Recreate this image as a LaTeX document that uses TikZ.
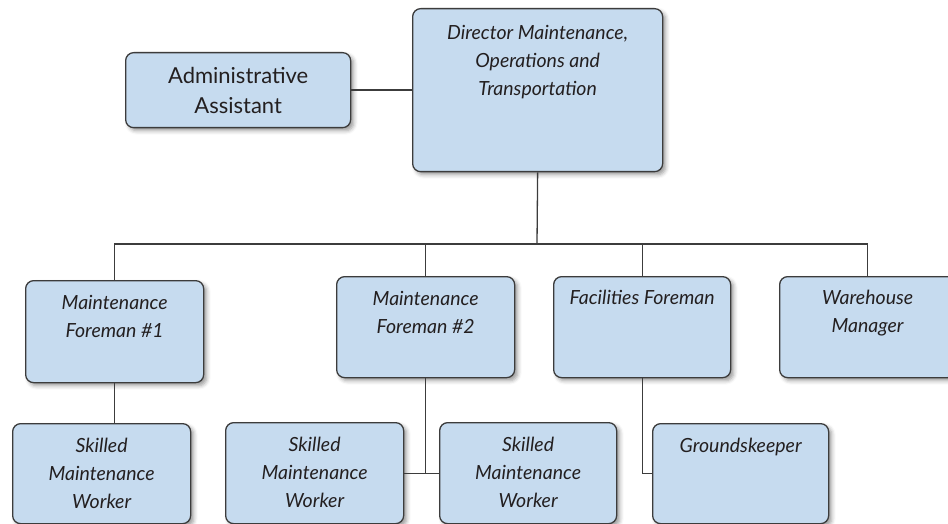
\documentclass[tikz,border=0pt]{standalone}
\usepackage{fontspec}
\setmainfont{Lato}
\usetikzlibrary{positioning,shadows.blur}
\definecolor{boxblue}{HTML}{C6DBEF}
\definecolor{linegray}{HTML}{3C3C3C}
\definecolor{textgray}{HTML}{231F20}
\begin{document}
\begin{tikzpicture}[x=1pt,y=-1pt]
    \tikzstyle{box}=[draw=linegray, fill=boxblue, line width=1.3pt, rounded corners=8pt, anchor=north west, inner sep=0pt, blur shadow={shadow xshift=3pt,shadow yshift=-3pt,shadow blur radius=4pt,shadow opacity=40}]
    \tikzstyle{title}=[inner sep=0pt, align=center, text=textgray, font=\fontsize{19.5}{28}\selectfont\itshape]
    \tikzstyle{link}=[draw=linegray, line width=1.3pt]
    \useasboundingbox (0,0) rectangle (948,524);

    \node (adm) [box, minimum width=225pt, minimum height=75pt, align=center, text=textgray, font=\fontsize{22}{30}\selectfont] at (125,52) {Administrative\\Assistant};
    \node (dir) [box, minimum width=250pt, minimum height=163pt] at (412,8) {};
    \node (fm1) [box, minimum width=178pt, minimum height=102pt] at (25,280) {};
    \node (fm2) [box, minimum width=178pt, minimum height=101pt] at (336,276) {};
    \node (ff) [box, minimum width=177pt, minimum height=101pt] at (553,276) {};
    \node (wh) [box, minimum width=176pt, minimum height=101pt] at (779,276) {};
    \node (sk1) [box, minimum width=178pt, minimum height=100pt] at (12,423) {};
    \node (sk2) [box, minimum width=178pt, minimum height=101pt] at (225,422) {};
    \node (sk3) [box, minimum width=177pt, minimum height=101pt] at (439,422) {};
    \node (gk) [box, minimum width=176pt, minimum height=100pt] at (652,423) {};

    \node (dirt) [title, below=17pt of dir.north] {Director Maintenance,\\Operations and\\Transportation};
    \node (fm1t) [title, below=15pt of fm1.north] {Maintenance\\Foreman \#1};
    \node (fm2t) [title, below=15pt of fm2.north] {Maintenance\\Foreman \#2};
    \node (fft) [title, below=14pt of ff.north] {Facilities Foreman};
    \node (wht) [title, below=14pt of wh.north] {Warehouse\\Manager};
    \node (sk1t) [title, below=15pt of sk1.north] {Skilled\\Maintenance\\Worker};
    \node (sk2t) [title, below=15pt of sk2.north] {Skilled\\Maintenance\\Worker};
    \node (sk3t) [title, below=15pt of sk3.north] {Skilled\\Maintenance\\Worker};
    \node (gkt) [title, below=15pt of gk.north] {Groundskeeper};

    \coordinate (bus) at (537,244);
    \draw[link] (adm.east) -- (adm.east -| dir.west);
    \draw[link] (dir.south) -- (bus);
    \draw[link] (fm1.north) |- (bus -| wh.north) -- (wh.north);
    \draw[link] (fm2.north) -- (fm2.north |- bus);
    \draw[link] (ff.north) -- (ff.north |- bus);
    \draw[link] (fm1.south) -- (fm1.south |- sk1.north);
    \draw[link] (fm2.south) -- (fm2.south |- sk2.east);
    \draw[link] (sk2.east) -- (sk3.west);
    \draw[link] (ff.south) |- (gk.west);
\end{tikzpicture}
\end{document}
